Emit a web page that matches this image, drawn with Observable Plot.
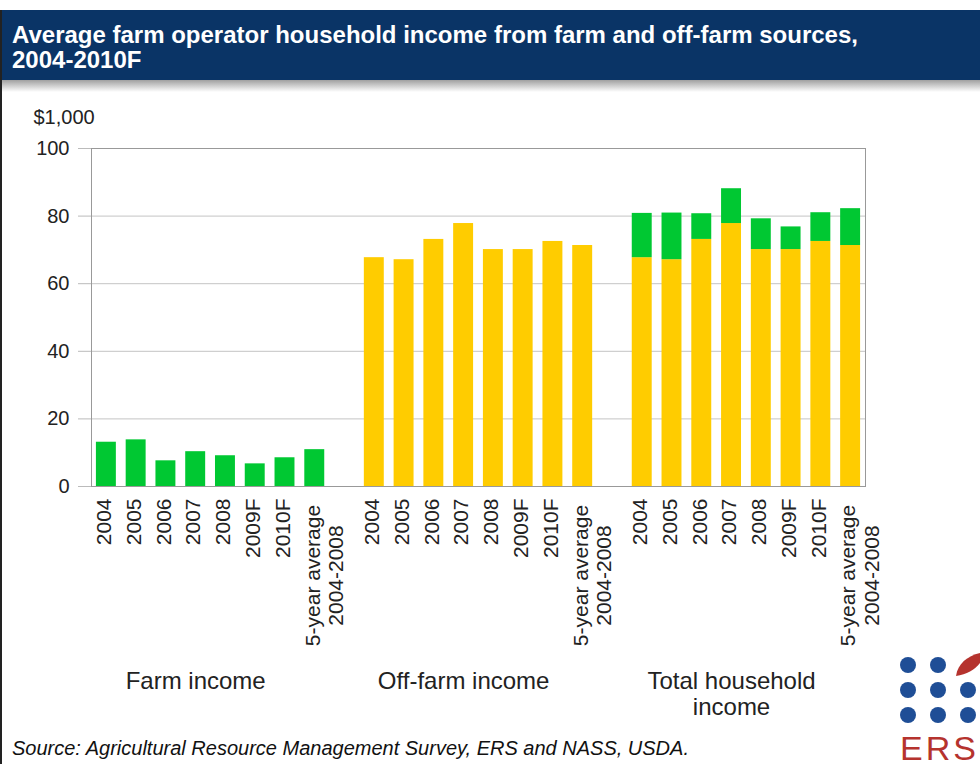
<!DOCTYPE html>
<html>
<head>
<meta charset="utf-8">
<script src="https://cdn.jsdelivr.net/npm/d3@7"></script>
<script src="https://cdn.jsdelivr.net/npm/@observablehq/plot@0.6"></script>
<style>
html,body{margin:0;padding:0;background:#fff;}
#wrap{position:relative;width:980px;height:764px;overflow:hidden;font-family:"Liberation Sans",Arial,sans-serif;}
#banner{position:absolute;left:0;top:10px;width:980px;height:70px;background:#0a3466;}
#shadow{position:absolute;left:0;top:80px;width:980px;height:12px;background:linear-gradient(#a0a0a0,#fff);}
#leftline{position:absolute;left:0;top:10px;width:2px;height:754px;background:#222;}
#title{position:absolute;left:12px;top:22px;color:#fff;font-weight:bold;font-size:24px;line-height:25px;margin:0;}
#chart{position:absolute;left:0;top:100px;}
#source{position:absolute;left:12px;top:737px;font-style:italic;font-size:20px;line-height:22px;color:#111;}
#logo{position:absolute;left:890px;top:648px;}
</style>
</head>
<body>
<div id="wrap">
  <div id="banner"></div>
  <div id="shadow"></div>
  <div id="leftline"></div>
  <div id="title">Average farm operator household income from farm and off-farm sources,<br>2004-2010F</div>
  <div id="chart"></div>
  <div id="source">Source: Agricultural Resource Management Survey, ERS and NASS, USDA.</div>
  <svg id="logo" width="90" height="116">
    <g fill="#1f4e96">
      <circle cx="18" cy="17" r="8"/><circle cx="48" cy="17" r="8"/>
      <circle cx="18" cy="42" r="8"/><circle cx="48" cy="42" r="8"/><circle cx="78" cy="42" r="8"/>
      <circle cx="18" cy="67" r="8"/><circle cx="48" cy="67" r="8"/><circle cx="78" cy="67" r="8"/>
    </g>
    <path d="M66,28 C68,14 80,6 96,4 C92,16 82,26 66,28 Z" fill="#b5332e"/>
    <text x="10" y="112" font-size="34" fill="#b5332e" letter-spacing="3" font-family="Liberation Sans, Arial, sans-serif">ERS</text>
  </svg>
</div>
<script>
// ---- data ----
const periods = ["2004", "2005", "2006", "2007", "2008", "2009F", "2010F", "5-year average\n2004-2008"];
const farmIncome = [13.1, 13.8, 7.6, 10.3, 9.1, 6.7, 8.5, 10.9];      // $1,000
const offFarmIncome = [67.7, 67.1, 73.1, 77.8, 70.1, 70.1, 72.5, 71.3]; // $1,000
const groups = ["Farm income", "Off-farm income", "Total household\nincome"];
const yTicks = [0, 20, 40, 60, 80, 100];
const unitLabel = "$1,000";

// ---- build table ----
const key = (g, i) => `${g}|${i}`;
const domain = [];
groups.forEach((g, gi) => {
  periods.forEach((p, i) => domain.push(key(gi, i)));
  if (gi < groups.length - 1) domain.push(`gap${gi}`);
});

const bars = [];
periods.forEach((p, i) => bars.push({key: key(0, i), type: "farm", value: farmIncome[i]}));
periods.forEach((p, i) => bars.push({key: key(1, i), type: "off", value: offFarmIncome[i]}));
periods.forEach((p, i) => {
  bars.push({key: key(2, i), type: "off", value: offFarmIncome[i]});
  bars.push({key: key(2, i), type: "farm", value: farmIncome[i]});
});

const tickRows = [];
groups.forEach((g, gi) => periods.forEach((p, i) => tickRows.push({key: key(gi, i), label: p, multi: p.includes("\n")})));
const groupRows = groups.map((g, gi) => ({key: key(gi, 3), label: g}));

const green = "#00c832", yellow = "#ffcc00";

const chart = Plot.plot({
  width: 980,
  height: 640,
  marginLeft: 91,
  marginRight: 115,
  marginTop: 48,
  marginBottom: 254,
  style: {fontFamily: "Liberation Sans, Arial, sans-serif", fontSize: "20px", color: "#222", background: "transparent"},
  x: {domain, paddingInner: 0.33, paddingOuter: 0.165, round: false, axis: null},
  y: {domain: [0, 100], axis: null},
  color: {domain: ["farm", "off"], range: [green, yellow]},
  marks: [
    Plot.gridY(yTicks, {stroke: "#c4c4c4", strokeOpacity: 1}),
    Plot.axisY(yTicks, {tickSize: 13, tickPadding: 9, stroke: "#bbb", fill: "#222", fontSize: 20, label: null}),
    Plot.barY(bars, {x: "key", y: "value", fill: "type"}),
    Plot.frame({stroke: "#999"}),
    Plot.text(tickRows.filter(d => !d.multi), {x: "key", text: "label", frameAnchor: "bottom", rotate: -90, textAnchor: "end", lineAnchor: "middle", dy: 12, dx: -2, fontSize: 21, fill: "#222"}),
    Plot.text(tickRows.filter(d => d.multi), {x: "key", text: "label", frameAnchor: "bottom", rotate: -90, textAnchor: "middle", lineAnchor: "middle", dy: 89, dx: 9, fontSize: 21, lineHeight: 1.1, fill: "#222"}),
    Plot.text(groupRows, {x: "key", text: "label", frameAnchor: "bottom", dy: 184, lineAnchor: "top", fontSize: 24, lineHeight: 1.08, fill: "#222"}),
    Plot.text([unitLabel], {text: d => d, frameAnchor: "top-left", dx: -58, dy: -31, textAnchor: "start", lineAnchor: "middle", fontSize: 20, fill: "#222"})
  ]
});
document.getElementById("chart").appendChild(chart);
</script>
</body>
</html>
